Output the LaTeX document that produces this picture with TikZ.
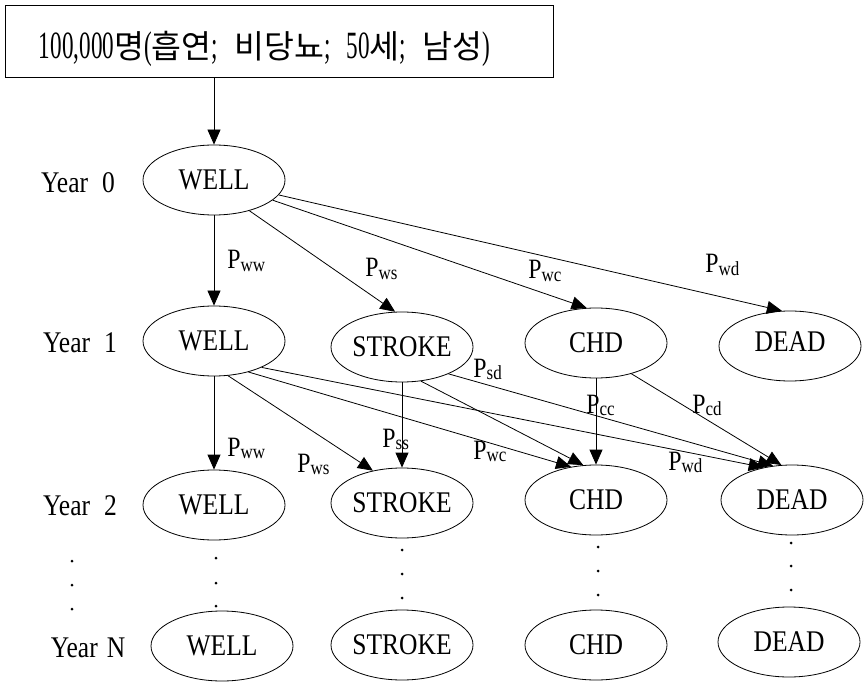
\documentclass[tikz,border=0pt]{standalone}
\usepackage{fontspec}
\usepackage{graphicx}
\setmainfont{Liberation Serif}
\newfontfamily\nf[FakeStretch=0.85]{Liberation Serif}
\newfontfamily\tf[FakeStretch=0.6]{Liberation Serif}
\newfontfamily\kr{Noto Sans CJK KR}
\usetikzlibrary{shapes.geometric,arrows.meta}
\newcommand\ko[1]{{\kr\fontsize{32}{32}\selectfont #1}}
\newcommand\pl[1]{P\raisebox{-2.5pt}{\fontsize{20}{20}\selectfont #1}}
\begin{document}
\begin{tikzpicture}[x=1pt,y=-1pt,line width=0.8pt,
  st/.style={ellipse,draw,line width=0.8pt,minimum width=142pt,minimum height=70pt,inner sep=0pt,font=\nf\fontsize{30}{30}\selectfont},
  yr/.style={inner sep=0pt,font=\nf\fontsize{30}{30}\selectfont},
  pr/.style={anchor=base west,inner sep=0pt,font=\nf\fontsize{28}{28}\selectfont},
  arr/.style={-{Triangle[length=15pt,width=13pt]},line width=0.8pt},
  titlebox/.style={draw,line width=0.8pt,minimum width=548pt,minimum height=72pt,inner sep=0pt}]
\useasboundingbox (0,0) rectangle (864,684);
% title
\node[titlebox] (top) at (279,41) {};
\node[anchor=base,inner sep=0pt] (title) at (264.5,59) {\resizebox{451pt}{!}{\tf\fontsize{38}{38}\selectfont 100,000\ko{명}(\ko{흡연};\hspace{16pt}\ko{비당뇨};\hspace{16pt}50\ko{세};\hspace{16pt}\ko{남성})}};
% year labels
\node[yr] (y0) at (78,183) {Year\hspace{14pt}0};
\node[yr] (y1) at (80,343) {Year\hspace{14pt}1};
\node[yr] (y2) at (80,506) {Year\hspace{14pt}2};
\node[yr] (yN) at (88,648) {Year\hspace{9pt}N};
% states
\node[st] (w0) at (214,180) {WELL};
\node[st] (w1) at (214,341) {WELL};
\node[st] (s1) at (402,347) {STROKE};
\node[st] (c1) at (596,343) {CHD};
\node[st] (d1) at (790,346) {\raisebox{8pt}{DEAD}};
\node[st] (w2) at (214,505) {WELL};
\node[st] (s2) at (402,503) {STROKE};
\node[st] (c2) at (596,500) {CHD};
\node[st] (d2) at (792,500) {DEAD};
\node[st] (wN) at (222,646) {WELL};
\node[st] (sN) at (402,645) {STROKE};
\node[st] (cN) at (596,645) {\raisebox{-4pt}{CHD}};
\node[st] (dN) at (789,642) {DEAD};
% edges
\draw[arr] (top.south -| w0) -- (w0);
\draw[arr] (w0) -- (w1);
\draw[arr] (w0.-41) -- (s1.101);
\draw[arr] (w0.-19) -- (c1.105);
\draw[arr] (w0.-13) -- (d1.103);
\draw[arr] (w1) -- (w2);
\draw[arr] (w1.-68) -- (s2.132);
\draw[arr] (w1.-42) -- (c2.127);
\draw[arr] (w1.-29) -- (d2.131);
\draw[arr] (s1) -- (s2);
\draw[arr] (s1.-61) -- (c2.110);
\draw[arr] (s1.-30) -- (d2.119);
\draw[arr] (c1) -- (c2);
\draw[arr] (c1.-41) -- (d2.107);
% labels
\node[pr] (l1) at (227,269) {\pl{ww}};
\node[pr] (l2) at (365,277) {\pl{ws}};
\node[pr] (l3) at (528,279) {\pl{wc}};
\node[pr] (l4) at (705,273) {\pl{wd}};
\node[pr] (l5) at (227,456) {\pl{ww}};
\node[pr] (l6) at (297,472) {\pl{ws}};
\node[pr] (l7) at (382,447) {\pl{ss}};
\node[pr] (l8) at (473,459) {\pl{wc}};
\node[pr] (l9) at (473,377) {\pl{sd}};
\node[pr] (l10) at (586,413) {\pl{cc}};
\node[pr] (l11) at (692,413) {\pl{cd}};
\node[pr] (l12) at (668,470) {\pl{wd}};
% dots
\foreach \x/\a/\b/\c in {72/561/585/609, 216/558/583/606, 402/550/574/598, 598/547/571/595, 791/543/566/590}
  {\fill (\x,\a) circle (1.5pt); \fill (\x,\b) circle (1.5pt); \fill (\x,\c) circle (1.5pt);}
\end{tikzpicture}
\end{document}
